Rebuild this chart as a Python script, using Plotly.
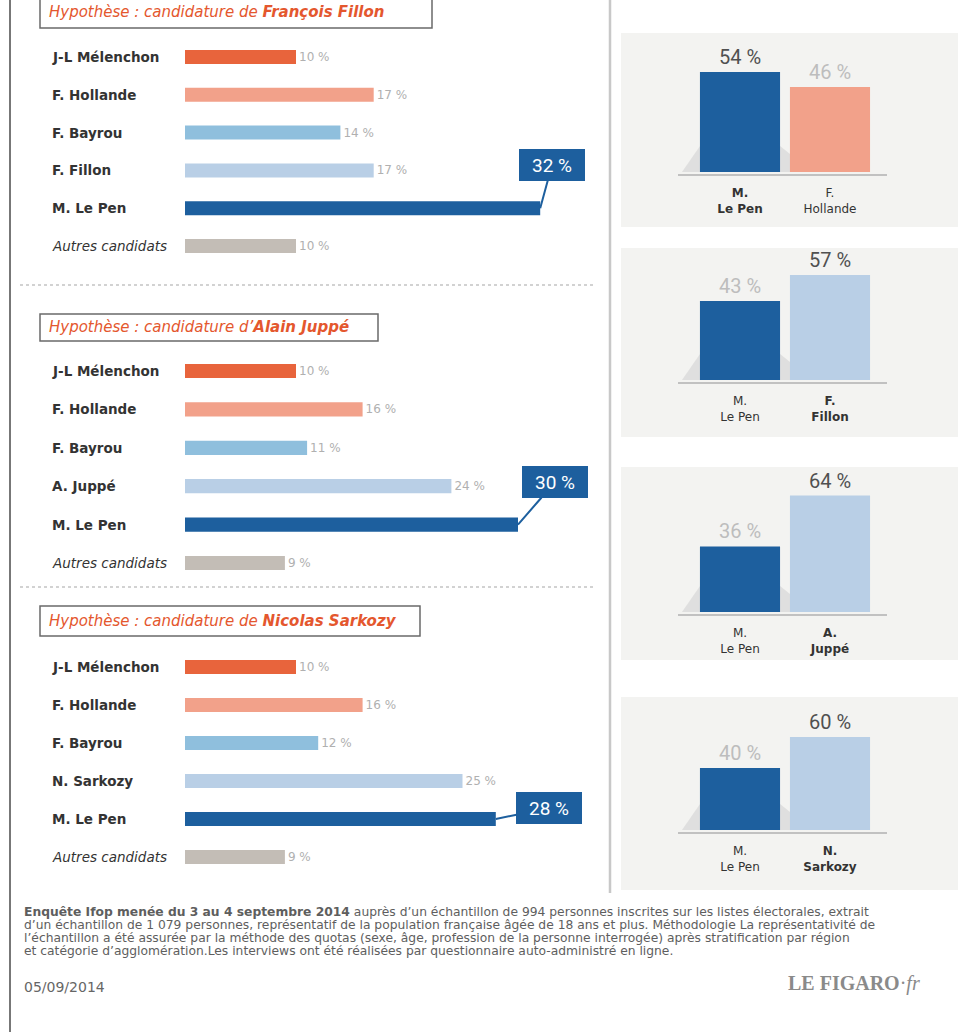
import plotly.graph_objects as go

# ---------------- DATA ----------------
cands_fillon = ["J-L Mélenchon", "F. Hollande", "F. Bayrou", "F. Fillon", "M. Le Pen", "Autres candidats"]
vals_fillon = [10, 17, 14, 17, 32, 10]
cands_juppe = ["J-L Mélenchon", "F. Hollande", "F. Bayrou", "A. Juppé", "M. Le Pen", "Autres candidats"]
vals_juppe = [10, 16, 11, 24, 30, 9]
cands_sarko = ["J-L Mélenchon", "F. Hollande", "F. Bayrou", "N. Sarkozy", "M. Le Pen", "Autres candidats"]
vals_sarko = [10, 16, 12, 25, 28, 9]

headers = [("Hypothèse : candidature de ", "François Fillon"),
           ("Hypothèse : candidature d’", "Alain Juppé"),
           ("Hypothèse : candidature de ", "Nicolas Sarkozy")]

duel_first = ["M.", "Le Pen"]
duel_opponents = [("F.", "Hollande"), ("F.", "Fillon"), ("A.", "Juppé"), ("N.", "Sarkozy")]
duel_lepen = [54, 43, 36, 40]
duel_opp = [46, 57, 64, 60]

footer_bold = "Enquête Ifop menée du 3 au 4 septembre 2014"
footer_lines = [
    " auprès d’un échantillon de 994 personnes inscrites sur les listes électorales, extrait",
    "d’un échantillon de 1 079 personnes, représentatif de la population française âgée de 18 ans et plus. Méthodologie La représentativité de",
    "l’échantillon a été assurée par la méthode des quotas (sexe, âge, profession de la personne interrogée) après stratification par région",
    "et catégorie d’agglomération.Les interviews ont été réalisées par questionnaire auto-administré en ligne.",
]
date_text = "05/09/2014"

# ---------------- STYLE ----------------
W, H = 960, 1035
def px(x): return x / W
def py(y): return 1 - y / H

bar_colors = ["#e8643c", "#f2a18a", "#8fbfdd", "#b9cfe6", "#1d5f9e", "#c3bdb6"]
BLUE = "#1d5f9e"
opp_colors = ["#f2a18a", "#b9cfe6", "#b9cfe6", "#b9cfe6"]
ORANGE = "#e4572e"
LABEL_FONT = "DejaVu Sans"

fig = go.Figure()
layout = dict(width=W, height=H, margin=dict(l=0, r=0, t=0, b=0),
              paper_bgcolor="white", plot_bgcolor="rgba(0,0,0,0)", showlegend=False)
shapes, annotations = [], []

# ---------------- LEFT: horizontal bar charts ----------------
LEFT_X0, LEFT_X1, PX_PER_PCT = 185, 600, 11.1
left_sections = [
    (cands_fillon, vals_fillon, 57, 246, (40, -5, 432, 28, 12), (552, 165)),
    (cands_juppe, vals_juppe, 371, 563, (40, 314, 378, 341, 327), (555, 482)),
    (cands_sarko, vals_sarko, 667, 857, (40, 606, 420, 636, 621), (549, 808)),
]
for i, (cands, vals, r0, r1, box, callout) in enumerate(left_sections):
    n = i + 1
    xa, ya = f"x{n}", f"y{n}"
    step = (r1 - r0) / (len(cands) - 1)
    top, bot = r0 - step / 2, r1 + step / 2
    texts = ["" if c == "M. Le Pen" else f"{v} %" for c, v in zip(cands, vals)]
    fig.add_trace(go.Bar(
        x=vals, y=cands, orientation="h", xaxis=xa, yaxis=ya,
        marker=dict(color=bar_colors, line=dict(width=0)), width=0.37,
        text=texts, textposition="outside", constraintext="none", cliponaxis=False,
        textfont=dict(family=LABEL_FONT, size=12, color="#b0b0b0"),
        hoverinfo="skip"))
    layout[f"xaxis{n}"] = dict(domain=[px(LEFT_X0), px(LEFT_X1)],
                               range=[0, (LEFT_X1 - LEFT_X0) / PX_PER_PCT],
                               anchor=ya, visible=False, fixedrange=True)
    layout[f"yaxis{n}"] = dict(domain=[py(bot), py(top)], type="category",
                               categoryarray=cands, range=[len(cands) - 0.5, -0.5],
                               anchor=xa, visible=False, fixedrange=True)
    # candidate names
    for c in cands:
        txt = f"<i>{c}</i>" if c.startswith("Autres") else c
        annotations.append(dict(x=px(50), xref="paper", y=c, yref=ya, text=txt,
                                xanchor="left", yanchor="middle", showarrow=False,
                                font=dict(family=LABEL_FONT, size=13.5, color="#333333",
                                          weight="bold" if not c.startswith("Autres") else "normal")))
    # header box
    bx0, by0, bx1, by1, ty = box
    shapes.append(dict(type="rect", xref="paper", yref="paper", x0=px(bx0), x1=px(bx1),
                       y0=py(by1), y1=py(by0), line=dict(color="#6a6a6a", width=1.5),
                       fillcolor="white", layer="below"))
    annotations.append(dict(x=px(bx0 + 7), xref="paper", y=py(ty), yref="paper",
                            text=f"<i>{headers[i][0]}<b>{headers[i][1]}</b></i>",
                            xanchor="left", yanchor="middle", showarrow=False,
                            font=dict(family=LABEL_FONT, size=15, color=ORANGE)))
    # callout for Le Pen
    lp = cands.index("M. Le Pen")
    bar_end_px = LEFT_X0 + vals[lp] * PX_PER_PCT
    row_px = r0 + lp * step
    annotations.append(dict(x=vals[lp], xref=xa, y="M. Le Pen", yref=ya,
                            text=f"{vals[lp]} %", showarrow=True, arrowhead=0,
                            arrowwidth=2, arrowcolor=BLUE, standoff=0,
                            ax=callout[0] - bar_end_px, ay=callout[1] - row_px,
                            bgcolor=BLUE, bordercolor=BLUE, borderpad=2, width=60, height=26,
                            font=dict(family="Roboto", size=19, color="white")))

# dotted separators between sections
for yy in (285, 587):
    shapes.append(dict(type="line", xref="paper", yref="paper", x0=px(20), x1=px(595),
                       y0=py(yy), y1=py(yy), line=dict(color="#c4c4c4", width=1.5, dash="dot")))

# ---------------- RIGHT: duel bar charts ----------------
right_boxes = [  # (box top, box bottom, bar bottom px, px per pct)
    (33, 227, 172, 1.85),
    (248, 437, 380, 1.84),
    (467, 660, 612, 1.82),
    (697, 890, 830, 1.55),
]
RX0, RX1, RC0, RSTEP = 665, 905, 740, 90
for j, (btop, bbot, bar_bot, scale) in enumerate(right_boxes):
    n = 4 + j
    xa, ya = f"x{n}", f"y{n}"
    shapes.append(dict(type="rect", xref="paper", yref="paper", x0=px(621), x1=px(958),
                       y0=py(bbot), y1=py(btop), line=dict(width=0),
                       fillcolor="#f3f3f1", layer="below"))
    # shadow
    shapes.append(dict(type="path", xref="paper", yref="paper", layer="below",
                       path=f"M {px(682)},{py(bar_bot)} L {px(700)},{py(bar_bot-26)} L {px(700)},{py(bar_bot)} Z",
                       fillcolor="#d8d8d8", line=dict(width=0), opacity=0.75))
    shapes.append(dict(type="path", xref="paper", yref="paper", layer="below",
                       path=f"M {px(780)},{py(bar_bot)} L {px(780)},{py(bar_bot-26)} L {px(790)},{py(bar_bot-18)} L {px(790)},{py(bar_bot)} Z",
                       fillcolor="#d8d8d8", line=dict(width=0), opacity=0.75))
    opp = duel_opponents[j]
    cats = ["<br>".join(duel_first), "<br>".join(opp)]
    vals = [duel_lepen[j], duel_opp[j]]
    win = [v > 50 for v in vals]
    ticktext = [f"<b>{duel_first[0]}<br>{duel_first[1]}</b>" if win[0] else cats[0],
                f"<b>{opp[0]}<br>{opp[1]}</b>" if win[1] else cats[1]]
    fig.add_trace(go.Bar(
        x=cats, y=vals, xaxis=xa, yaxis=ya, width=0.89,
        marker=dict(color=[BLUE, opp_colors[j]], line=dict(width=0)),
        text=[f"{v} %" for v in vals], textposition="outside", cliponaxis=False,
        constraintext="none",
        textfont=dict(family="Roboto", size=20, color=["#505050" if w else "#bdbdbd" for w in win]),
        hoverinfo="skip"))
    h = 130
    layout[f"xaxis{n}"] = dict(domain=[px(RX0), px(RX1)],
                               range=[(RX0 - RC0) / RSTEP, (RX1 - RC0) / RSTEP],
                               anchor=ya, type="category", tickvals=cats, ticktext=ticktext,
                               showgrid=False, zeroline=False, showline=False, ticks="",
                               ticklabelstandoff=12,
                               tickfont=dict(family=LABEL_FONT, size=12, color="#333333"),
                               fixedrange=True)
    layout[f"yaxis{n}"] = dict(domain=[py(bar_bot), py(bar_bot - h)], range=[0, h / scale],
                               anchor=xa, visible=False, fixedrange=True)
    # baseline
    shapes.append(dict(type="line", xref="paper", yref="paper", x0=px(678), x1=px(887),
                       y0=py(bar_bot + 3), y1=py(bar_bot + 3),
                       line=dict(color="#b0b0b0", width=1.5)))

# ---------------- frame lines ----------------
shapes.append(dict(type="line", xref="paper", yref="paper", x0=px(10), x1=px(10),
                   y0=py(1032), y1=py(0), line=dict(color="#777777", width=2)))
shapes.append(dict(type="line", xref="paper", yref="paper", x0=px(610), x1=px(610),
                   y0=py(893), y1=py(0), line=dict(color="#c8c8c8", width=2.5)))

# ---------------- footer ----------------
for k, line in enumerate(footer_lines):
    txt = (f"<b>{footer_bold}</b>" + line) if k == 0 else line
    annotations.append(dict(x=px(22), xref="paper", y=py(912 + k * 13), yref="paper",
                            text=txt, xanchor="left", yanchor="middle", showarrow=False,
                            font=dict(family=LABEL_FONT, size=12.3, color="#5e5e5e")))
annotations.append(dict(x=px(22), xref="paper", y=py(987), yref="paper", text=date_text,
                        xanchor="left", yanchor="middle", showarrow=False,
                        font=dict(family=LABEL_FONT, size=14, color="#666666")))
annotations.append(dict(x=px(922), xref="paper", y=py(983), yref="paper",
                        text="<b>LE FIGARO</b>·<i>fr</i>", xanchor="right", yanchor="middle",
                        showarrow=False,
                        font=dict(family="Liberation Serif", size=20, color="#8a8a8a")))

layout["shapes"] = shapes
layout["annotations"] = annotations
fig.update_layout(**layout)
fig.write_html("out.html")
